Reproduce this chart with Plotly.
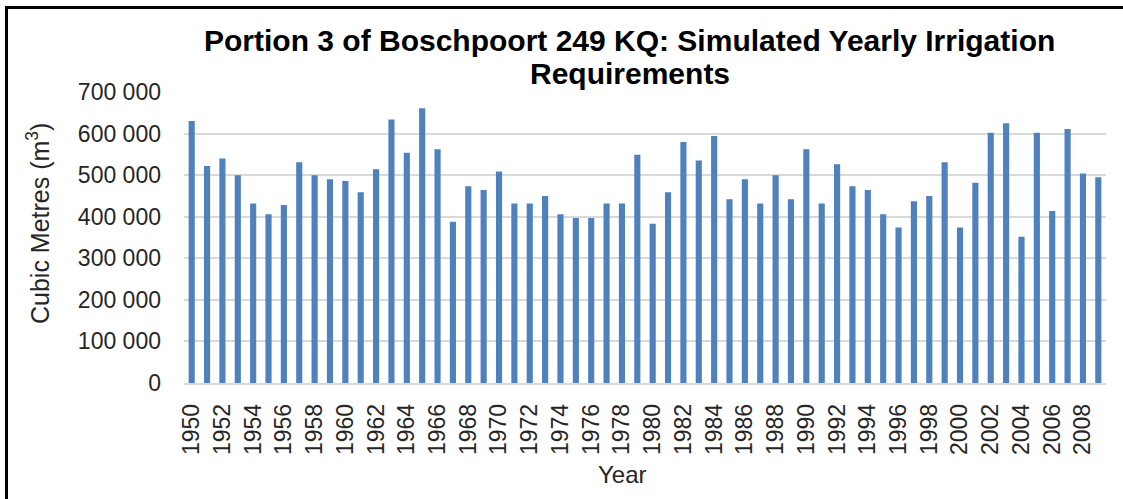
import plotly.graph_objects as go

# Simulated yearly irrigation requirement per year (cubic metres)
years = list(range(1950, 2010))
volumes = [
    630000, 522000, 540000, 500000, 432000, 406000, 428000, 531000, 500000, 490000,
    486000, 459000, 514000, 634000, 554000, 661000, 562000, 388000, 473000, 464000,
    509000, 432000, 432000, 450000, 406000, 397000, 397000, 432000, 432000, 549000,
    383000, 459000, 580000, 535000, 594000, 442000, 490000, 432000, 500000, 442000,
    562000, 432000, 526000, 473000, 464000, 406000, 374000, 437000, 450000, 531000,
    374000, 482000, 602000, 625000, 352000, 602000, 414000, 611000, 504000, 495000,
]
tick_years = list(range(1950, 2010, 2))
y_ticks = list(range(0, 700001, 100000))

title_line1 = "Portion 3 of Boschpoort 249 KQ: Simulated Yearly Irrigation"
title_line2 = "Requirements"
y_title = "Cubic Metres (m<sup>3</sup>)"
x_title = "Year"

W, H = 1123, 499
L, R, T, B = 184, 17, 92, 116
PW, PH = W - L - R, H - T - B


def px_x(px):
    return (px - L) / PW


def px_y(py):
    return (H - B - py) / PH


FONT = "Liberation Sans, Arial, sans-serif"
BLUE = "#4F81BD"
GRID = "#d9d9d9"

fig = go.Figure(
    go.Bar(x=years, y=volumes, marker=dict(color=BLUE, line=dict(width=0)))
)

fig.update_layout(
    width=W,
    height=H,
    margin=dict(l=L, r=R, t=T, b=B, pad=0),
    paper_bgcolor="white",
    plot_bgcolor="white",
    bargap=0.6,
    showlegend=False,
    separators=". ",
    font=dict(family=FONT, color="#262626"),
)

fig.update_xaxes(
    type="linear",
    range=[1949.5, 2009.5],
    tickvals=tick_years,
    ticktext=[str(y) for y in tick_years],
    tickangle=-90,
    tickfont=dict(size=23, color="#262626"),
    showgrid=False,
    showline=True,
    linecolor=GRID,
    linewidth=1.5,
    ticks="",
    ticklabelstandoff=10,
    zeroline=False,
)

fig.update_yaxes(
    range=[0, 700000],
    tickvals=y_ticks,
    tickformat=",d",
    tickfont=dict(size=23, color="#262626"),
    showgrid=True,
    gridcolor=GRID,
    gridwidth=1.5,
    showline=False,
    zeroline=False,
    ticks="",
    ticklabelstandoff=22,
)

annotations = [
    dict(text=f"<b>{title_line1}</b>", x=px_x(629), y=px_y(41),
         font=dict(size=30, color="#000000", family=FONT)),
    dict(text=f"<b>{title_line2}</b>", x=px_x(630), y=px_y(73),
         font=dict(size=30, color="#000000", family=FONT)),
    dict(text=y_title, x=px_x(38), y=px_y(224), textangle=-90,
         font=dict(size=25, color="#262626", family=FONT)),
    dict(text=x_title, x=px_x(622), y=px_y(474),
         font=dict(size=24, color="#262626", family=FONT)),
]
for a in annotations:
    a.update(xref="paper", yref="paper", showarrow=False,
             xanchor="center", yanchor="middle")
fig.update_layout(annotations=annotations)

# Frame around the chart (top and left edges)
fig.add_shape(type="line", xref="paper", yref="paper",
              x0=px_x(6.5), x1=px_x(W + 5), y0=px_y(7.5), y1=px_y(7.5),
              line=dict(color="black", width=3))
fig.add_shape(type="line", xref="paper", yref="paper",
              x0=px_x(6.5), x1=px_x(6.5), y0=px_y(6), y1=px_y(H + 5),
              line=dict(color="black", width=3))

fig.write_html("out.html")
